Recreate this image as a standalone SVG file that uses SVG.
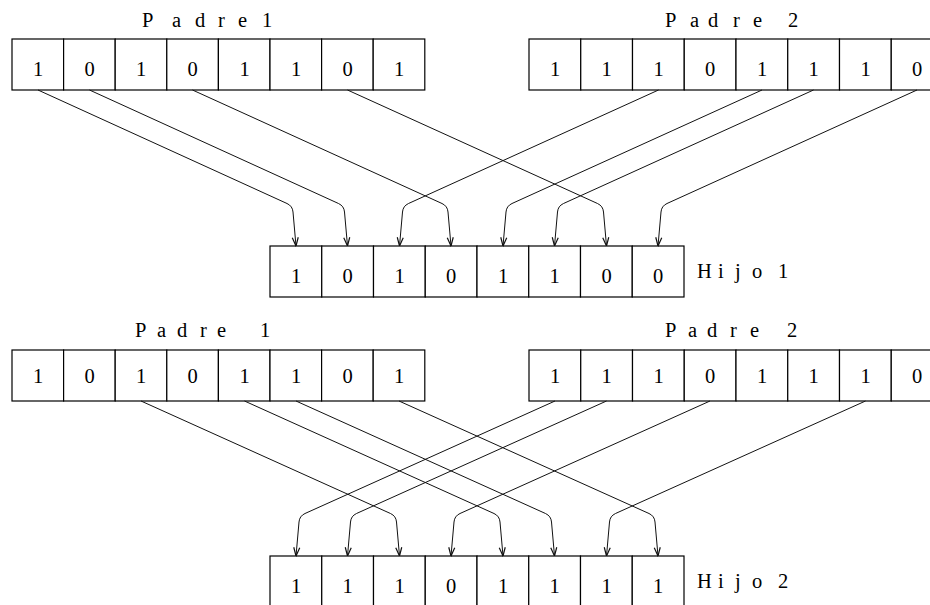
<svg xmlns="http://www.w3.org/2000/svg" width="930" height="605" viewBox="0 0 930 605">
<style>
.cell{fill:#fff;stroke:#000;stroke-width:1.2}
.dig{font-family:"Liberation Serif",serif;font-size:20.5px;text-anchor:middle;fill:#000}
.lbl{font-family:"Liberation Serif",serif;font-size:20.5px;fill:#000}
.con{fill:none;stroke:#111;stroke-width:1;marker-end:url(#arr)}
</style>
<defs>
<marker id="arr" markerUnits="userSpaceOnUse" markerWidth="10" markerHeight="10" viewBox="0 0 10 10" refX="9.5" refY="5" orient="auto">
<path d="M1,2 L9.5,5 L1,8" fill="none" stroke="#111" stroke-width="1.2"/>
</marker>
</defs>
<rect width="930" height="605" fill="#fff"/>

<g id="padre1-top">
<rect class="cell" x="12" y="39" width="51.6" height="51"/><rect class="cell" x="63.6" y="39" width="51.6" height="51"/><rect class="cell" x="115.2" y="39" width="51.6" height="51"/><rect class="cell" x="166.8" y="39" width="51.6" height="51"/><rect class="cell" x="218.4" y="39" width="51.6" height="51"/><rect class="cell" x="270" y="39" width="51.6" height="51"/><rect class="cell" x="321.6" y="39" width="51.6" height="51"/><rect class="cell" x="373.2" y="39" width="51.6" height="51"/>
<text class="dig" y="75.5"><tspan x="38">1</tspan><tspan x="89.5">0</tspan><tspan x="141">1</tspan><tspan x="192.5">0</tspan><tspan x="244.5">1</tspan><tspan x="296">1</tspan><tspan x="347.5">0</tspan><tspan x="399">1</tspan></text>
<text class="lbl" y="27" x="142 172 195 218 238 250 262">Padre 1</text>
</g>

<g id="padre2-top">
<rect class="cell" x="529" y="39" width="51.75" height="51"/><rect class="cell" x="580.75" y="39" width="51.75" height="51"/><rect class="cell" x="632.5" y="39" width="51.75" height="51"/><rect class="cell" x="684.25" y="39" width="51.75" height="51"/><rect class="cell" x="736" y="39" width="51.75" height="51"/><rect class="cell" x="787.75" y="39" width="51.75" height="51"/><rect class="cell" x="839.5" y="39" width="51.75" height="51"/><rect class="cell" x="891.25" y="39" width="51.75" height="51"/>
<text class="dig" y="75.5"><tspan x="555">1</tspan><tspan x="606.5">1</tspan><tspan x="658.5">1</tspan><tspan x="710">0</tspan><tspan x="762">1</tspan><tspan x="813.5">1</tspan><tspan x="865.5">1</tspan><tspan x="917">0</tspan></text>
<text class="lbl" y="27" x="665 690 708 733 753 770 788">Padre 2</text>
</g>

<g id="hijo1">
<rect class="cell" x="270" y="246" width="51.75" height="51"/><rect class="cell" x="321.75" y="246" width="51.75" height="51"/><rect class="cell" x="373.5" y="246" width="51.75" height="51"/><rect class="cell" x="425.25" y="246" width="51.75" height="51"/><rect class="cell" x="477" y="246" width="51.75" height="51"/><rect class="cell" x="528.75" y="246" width="51.75" height="51"/><rect class="cell" x="580.5" y="246" width="51.75" height="51"/><rect class="cell" x="632.25" y="246" width="51.75" height="51"/>
<text class="dig" y="283"><tspan x="296">1</tspan><tspan x="347.5">0</tspan><tspan x="399.5">1</tspan><tspan x="451">0</tspan><tspan x="503">1</tspan><tspan x="554.5">1</tspan><tspan x="606.5">0</tspan><tspan x="658">0</tspan></text>
<text class="lbl" y="278" x="697 718 735 752 766 778">Hijo 1</text>
</g>

<g id="padre1-bottom">
<rect class="cell" x="12" y="350" width="51.6" height="51"/><rect class="cell" x="63.6" y="350" width="51.6" height="51"/><rect class="cell" x="115.2" y="350" width="51.6" height="51"/><rect class="cell" x="166.8" y="350" width="51.6" height="51"/><rect class="cell" x="218.4" y="350" width="51.6" height="51"/><rect class="cell" x="270" y="350" width="51.6" height="51"/><rect class="cell" x="321.6" y="350" width="51.6" height="51"/><rect class="cell" x="373.2" y="350" width="51.6" height="51"/>
<text class="dig" y="383"><tspan x="38">1</tspan><tspan x="89.5">0</tspan><tspan x="141">1</tspan><tspan x="192.5">0</tspan><tspan x="244.5">1</tspan><tspan x="296">1</tspan><tspan x="347.5">0</tspan><tspan x="399">1</tspan></text>
<text class="lbl" y="337" x="135 157 177 200 217 240 260">Padre 1</text>
</g>

<g id="padre2-bottom">
<rect class="cell" x="529" y="350" width="51.75" height="51"/><rect class="cell" x="580.75" y="350" width="51.75" height="51"/><rect class="cell" x="632.5" y="350" width="51.75" height="51"/><rect class="cell" x="684.25" y="350" width="51.75" height="51"/><rect class="cell" x="736" y="350" width="51.75" height="51"/><rect class="cell" x="787.75" y="350" width="51.75" height="51"/><rect class="cell" x="839.5" y="350" width="51.75" height="51"/><rect class="cell" x="891.25" y="350" width="51.75" height="51"/>
<text class="dig" y="383"><tspan x="555">1</tspan><tspan x="606.5">1</tspan><tspan x="658.5">1</tspan><tspan x="710">0</tspan><tspan x="762">1</tspan><tspan x="813.5">1</tspan><tspan x="865.5">1</tspan><tspan x="917">0</tspan></text>
<text class="lbl" y="337" x="665 688 707 730 750 770 787">Padre 2</text>
</g>

<g id="hijo2">
<rect class="cell" x="270" y="556" width="51.75" height="51"/><rect class="cell" x="321.75" y="556" width="51.75" height="51"/><rect class="cell" x="373.5" y="556" width="51.75" height="51"/><rect class="cell" x="425.25" y="556" width="51.75" height="51"/><rect class="cell" x="477" y="556" width="51.75" height="51"/><rect class="cell" x="528.75" y="556" width="51.75" height="51"/><rect class="cell" x="580.5" y="556" width="51.75" height="51"/><rect class="cell" x="632.25" y="556" width="51.75" height="51"/>
<text class="dig" y="592.5"><tspan x="296">1</tspan><tspan x="347.5">1</tspan><tspan x="399.5">1</tspan><tspan x="451">0</tspan><tspan x="503">1</tspan><tspan x="554.5">1</tspan><tspan x="606.5">1</tspan><tspan x="658">1</tspan></text>
<text class="lbl" y="588" x="697 718 735 752 766 778">Hijo 2</text>
</g>

<g id="connectors">
<path class="con" d="M38 90 L287 203.5 Q292.5 206 293 212 L296 246"/>
<path class="con" d="M89.5 90 L338.5 203.5 Q344 206 344.5 212 L347.5 246"/>
<path class="con" d="M192.5 90 L442 203.5 Q447.5 206 448 212 L451 246"/>
<path class="con" d="M347.5 90 L597.5 203.5 Q603 206 603.5 212 L606.5 246"/>
<path class="con" d="M658.5 90 L408.5 203.5 Q403 206 402.5 212 L399.5 246"/>
<path class="con" d="M762 90 L512 203.5 Q506.5 206 506 212 L503 246"/>
<path class="con" d="M813.5 90 L563.5 203.5 Q558 206 557.5 212 L554.5 246"/>
<path class="con" d="M917 90 L667 203.5 Q661.5 206 661 212 L658 246"/>
<path class="con" d="M141 401 L390.5 513.5 Q396 516 396.5 522 L399.5 556"/>
<path class="con" d="M244.5 401 L494 513.5 Q499.5 516 500 522 L503 556"/>
<path class="con" d="M296 401 L545.5 513.5 Q551 516 551.5 522 L554.5 556"/>
<path class="con" d="M399 401 L649 513.5 Q654.5 516 655 522 L658 556"/>
<path class="con" d="M555 401 L305 513.5 Q299.5 516 299 522 L296 556"/>
<path class="con" d="M606.5 401 L356.5 513.5 Q351 516 350.5 522 L347.5 556"/>
<path class="con" d="M710 401 L460 513.5 Q454.5 516 454 522 L451 556"/>
<path class="con" d="M865.5 401 L615.5 513.5 Q610 516 609.5 522 L606.5 556"/>
</g>
</svg>
